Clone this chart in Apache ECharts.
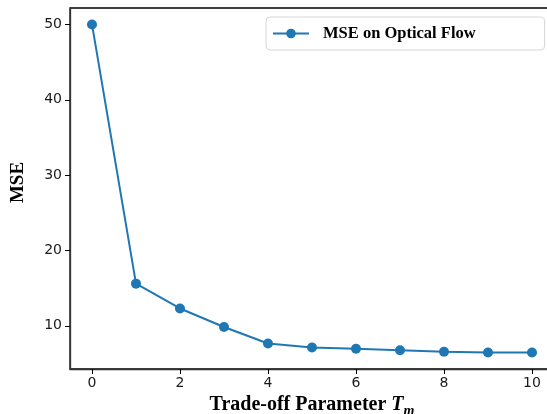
<!DOCTYPE html>
<html>
<head>
<meta charset="utf-8">
<script src="https://cdn.jsdelivr.net/npm/echarts@6/dist/echarts.min.js"></script>
<style>
  html, body { margin: 0; padding: 0; background: #fff; }
  #chart { width: 547px; height: 414px; }
</style>
</head>
<body>
<div id="chart"></div>
<script>
// data
const tradeOff = [0, 1, 2, 3, 4, 5, 6, 7, 8, 9, 10];
const mseValues = [50.0, 15.6, 12.3, 9.85, 7.65, 7.13, 6.95, 6.77, 6.55, 6.47, 6.45];
const xTicks = [0, 2, 4, 6, 8, 10];
const yTicks = [10, 20, 30, 40, 50];

const serif = "'Liberation Serif', 'DejaVu Serif', serif";
const sans = "'DejaVu Sans', sans-serif";

var myChart = echarts.init(document.getElementById("chart"));
myChart.setOption({
  animation: false,
  grid: {
    left: 70,
    top: 8,
    width: 484,
    height: 361,
    outerBoundsMode: "none",
    containLabel: false,
    show: true,
    borderColor: "#000",
    borderWidth: 1.3,
  },
  legend: {
    left: 266,
    top: 17,
    padding: [8, 69, 8, 6],
    itemWidth: 36,
    itemHeight: 12,
    backgroundColor: "#fff",
    borderColor: "#d6d6d6",
    borderWidth: 1,
    borderRadius: 4,
    textStyle: {
      fontFamily: serif,
      fontWeight: "bold",
      fontSize: 16.5,
      color: "#000",
      padding: [0, 0, 0, 9],
    },
  },
  xAxis: {
    type: "value",
    min: -0.5,
    max: 10.5,
    name: "{a|Trade-off Parameter }{t|T}{m|m}",
    nameLocation: "middle",
    nameGap: 20,
    nameTextStyle: {
      rich: {
        a: { fontFamily: serif, fontWeight: "bold", fontSize: 20, color: "#000", lineHeight: 26, verticalAlign: "bottom" },
        t: { fontFamily: serif, fontWeight: "bold", fontStyle: "italic", fontSize: 20, color: "#000", lineHeight: 26, verticalAlign: "bottom" },
        m: { fontFamily: serif, fontWeight: "bold", fontStyle: "italic", fontSize: 14, color: "#000", lineHeight: 26, verticalAlign: "bottom", padding: [0, 0, -3, 0] },
      },
    },
    splitLine: { show: false },
    axisLine: { onZero: false, lineStyle: { color: "#333", width: 1.3 } },
    axisTick: { length: 5, lineStyle: { color: "#000" }, customValues: xTicks },
    axisLabel: {
      customValues: xTicks,
      fontFamily: sans,
      fontSize: 14,
      color: "#1a1a1a",
      margin: 7,
    },
  },
  yAxis: {
    type: "value",
    min: 4.27,
    max: 52.18,
    name: "MSE",
    nameLocation: "middle",
    nameGap: 42,
    nameTextStyle: { fontFamily: serif, fontWeight: "bold", fontSize: 19, color: "#000", padding: [0, 0, 0, 12] },
    splitLine: { show: false },
    axisLine: { show: true, onZero: false, lineStyle: { color: "#333", width: 1.3 } },
    axisTick: { show: true, length: 5, lineStyle: { color: "#000" }, customValues: yTicks },
    axisLabel: {
      customValues: yTicks,
      fontFamily: sans,
      fontSize: 14,
      color: "#1a1a1a",
      margin: 8,
    },
  },
  series: [
    {
      name: "MSE on Optical Flow",
      type: "line",
      data: tradeOff.map((x, i) => [x, mseValues[i]]),
      symbol: "circle",
      symbolSize: 10,
      lineStyle: { color: "#1f77b4", width: 2 },
      itemStyle: { color: "#1f77b4" },
    },
  ],
});
</script>
</body>
</html>
